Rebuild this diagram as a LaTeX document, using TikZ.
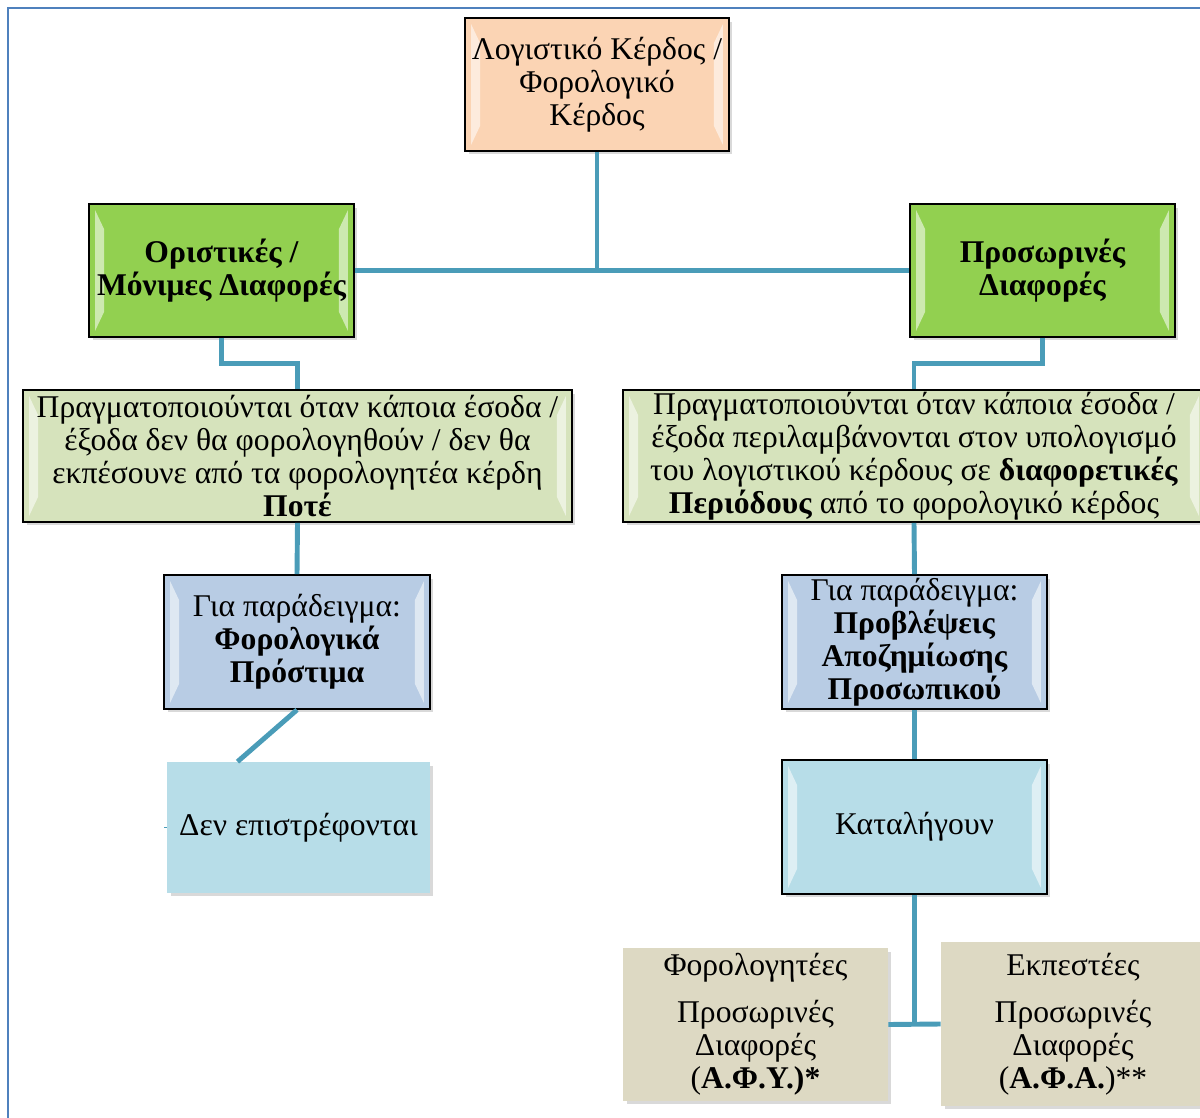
\documentclass[tikz,border=0pt]{standalone}
\usepackage{fontspec}
\setmainfont{Liberation Serif}
\usepackage{tikz}
\usetikzlibrary{calc,shadows}
\tikzset{>=stealth}
\definecolor{peach}{HTML}{FBD4B4}
\definecolor{grass}{HTML}{92D050}
\definecolor{olive}{HTML}{D6E3BC}
\definecolor{steel}{HTML}{B8CCE4}
\definecolor{aqua}{HTML}{B7DDE8}
\definecolor{tan}{HTML}{DDD9C3}
\definecolor{framecol}{HTML}{4F81BD}
\definecolor{linkcol}{HTML}{4A9CB8}
\tikzset{
  box/.style={rectangle,inner sep=0pt,align=center,
    font=\fontsize{18}{18.8}\selectfont,
    drop shadow={shadow xshift=.07cm,shadow yshift=-.07cm,opacity=.3}},
  bevel/.style={draw=black,line width=1pt,path picture={
    \fill[white,opacity=.55] ($(path picture bounding box.north west)+(.12cm,-.12cm)$)
      -- ($(path picture bounding box.north west)+(.3cm,-.5cm)$)
      -- ($(path picture bounding box.south west)+(.3cm,.5cm)$)
      -- ($(path picture bounding box.south west)+(.12cm,.12cm)$) -- cycle;
    \fill[white,opacity=.55] ($(path picture bounding box.north east)+(-.12cm,-.12cm)$)
      -- ($(path picture bounding box.north east)+(-.3cm,-.5cm)$)
      -- ($(path picture bounding box.south east)+(-.3cm,.5cm)$)
      -- ($(path picture bounding box.south east)+(-.12cm,.12cm)$) -- cycle;}},
  link/.style={draw=linkcol,line width=2.8pt}
}

\begin{document}
\begin{tikzpicture}[x=0.02cm,y=-0.02cm]
  \useasboundingbox (0,0) rectangle (1200,1118);
  \draw[framecol,line width=1.1pt] (8,1130) -- (8,8) -- (1210,8);

  \node[box,bevel,fill=peach,minimum width=5.28cm,minimum height=2.66cm] (top) at (597,84.5)
    {Λογιστικό Κέρδος /\\Φορολογικό\\Κέρδος};
  \node[box,bevel,fill=grass,minimum width=5.3cm,minimum height=2.66cm,font=\fontsize{18}{18.8}\selectfont\bfseries] (lg) at (221.5,270.5)
    {Οριστικές /\\Μόνιμες Διαφορές};
  \node[box,bevel,fill=grass,minimum width=5.3cm,minimum height=2.66cm,font=\fontsize{18}{18.8}\selectfont\bfseries] (rg) at (1042.5,270.5)
    {Προσωρινές\\Διαφορές};
  \node[box,bevel,fill=olive,minimum width=10.98cm,minimum height=2.64cm] (ld) at (297.5,456)
    {Πραγματοποιούνται όταν κάποια έσοδα /\\έξοδα δεν θα φορολογηθούν / δεν θα\\εκπέσουνε από τα φορολογητέα κέρδη\\\textbf{Ποτέ}};
  \node[box,bevel,fill=olive,minimum width=11.64cm,minimum height=2.64cm] (rd) at (914,456)
    {Πραγματοποιούνται όταν κάποια έσοδα /\\έξοδα περιλαμβάνονται στον υπολογισμό\\του λογιστικού κέρδους σε \textbf{διαφορετικές}\\\textbf{Περιόδους} από το φορολογικό κέρδος};
  \node[box,bevel,fill=steel,minimum width=5.32cm,minimum height=2.68cm] (lex) at (297,642)
    {Για παράδειγμα:\\\textbf{Φορολογικά}\\\textbf{Πρόστιμα}};
  \node[box,bevel,fill=steel,minimum width=5.3cm,minimum height=2.68cm] (rex) at (914.5,642)
    {Για παράδειγμα:\\\textbf{Προβλέψεις}\\\textbf{Αποζημίωσης}\\\textbf{Προσωπικού}};
  \node[box,fill=aqua,minimum width=5.26cm,minimum height=2.62cm] (den) at (298.5,827.5)
    {Δεν επιστρέφονται};
  \node[box,bevel,fill=aqua,minimum width=5.3cm,minimum height=2.68cm] (kat) at (914.5,827)
    {Καταλήγουν};
  \node[box,fill=tan,minimum width=5.3cm,minimum height=3.06cm] (bl) at (755.5,1024.5)
    {Φορολογητέες\\[.45em]Προσωρινές\\Διαφορές\\(\textbf{Α.Φ.Υ.)*}};
  \node[box,fill=tan,minimum width=5.28cm,minimum height=3.28cm] (br) at (1073,1024)
    {Εκπεστέες\\[.45em]Προσωρινές\\Διαφορές\\(\textbf{Α.Φ.Α.})**};

  \draw[link] (top.south) -- (top.south |- lg.east);
  \draw[link] (lg.east) -- (rg.west);
  \draw[link] (lg.south) -- ++(0,26) -| (ld.north);
  \draw[link] (rg.south) -- ++(0,26) -| (rd.north);
  \draw[link] (ld.south) -- (lex.north);
  \draw[link] (rd.south) -- (rex.north);
  \draw[link] (lex.south) -- ([xshift=-1.22cm]den.north);
  \draw[link,line width=1pt] (den.west) -- ++(-3,0);
  \draw[link] (rex.south) -- (kat.north);
  \draw[link] (kat.south) -- (kat.south |- bl.east);
  \draw[link] (bl.east) -- (br.west);
\end{tikzpicture}
\end{document}
